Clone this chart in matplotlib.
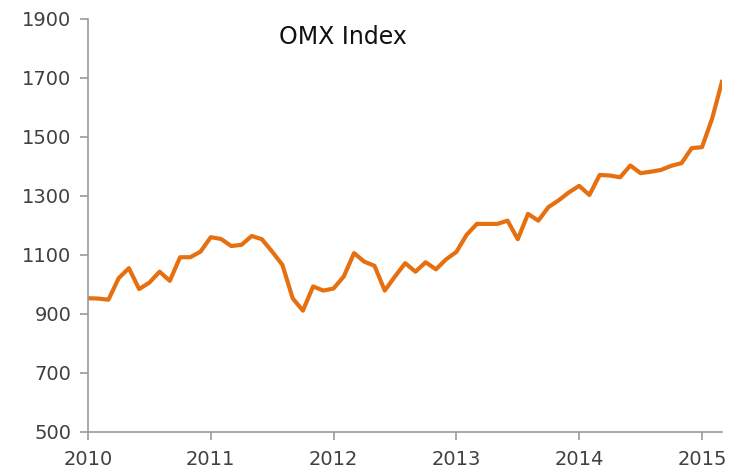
import matplotlib
matplotlib.use("Agg")
import matplotlib.pyplot as plt
import numpy as np

title = "OMX Index"
start_year = 2010
values_2010 = [953, 952, 948, 1021, 1055, 984, 1006, 1043, 1012, 1092, 1092, 1111]
values_2011 = [1160, 1154, 1130, 1134, 1164, 1153, 1111, 1066, 953, 911, 993, 979]
values_2012 = [986, 1027, 1106, 1077, 1063, 979, 1027, 1072, 1043, 1075, 1051, 1085]
values_2013 = [1110, 1168, 1205, 1205, 1205, 1216, 1153, 1239, 1216, 1262, 1285, 1312]
values_2014 = [1334, 1303, 1371, 1369, 1363, 1403, 1377, 1382, 1388, 1402, 1411, 1462]
values_2015 = [1465, 1563, 1693]
year_ticks = [2010, 2011, 2012, 2013, 2014, 2015]
y_ticks = [500, 700, 900, 1100, 1300, 1500, 1700, 1900]

values = values_2010 + values_2011 + values_2012 + values_2013 + values_2014 + values_2015
x = start_year + np.arange(len(values)) / 12.0

fig = plt.figure(figsize=(7.33, 4.72), dpi=100)
ax = fig.add_axes([0.12, 0.085, 0.865, 0.875])
ax.plot(x, values, color="#E66F10", lw=3, solid_joinstyle="round", solid_capstyle="butt")

ax.set_xlim(2010, 2015.163)
ax.set_ylim(500, 1900)
ax.set_xticks(year_ticks)
ax.set_xticklabels([str(y) for y in year_ticks])
ax.set_yticks(y_ticks)

for s in ["top", "right"]:
    ax.spines[s].set_visible(False)
for s in ["left", "bottom"]:
    ax.spines[s].set_color("#999999")
    ax.spines[s].set_linewidth(1.2)
ax.tick_params(axis="both", colors="#999999", labelcolor="#404040", labelsize=14,
               length=6, width=1.2, direction="out")
ax.tick_params(axis="y", pad=6)
ax.tick_params(axis="x", pad=7)

ax.text(0.402, 0.956, title, transform=ax.transAxes, ha="center", va="center",
        fontsize=17, color="#111111")

fig.savefig("out.png", dpi=100)
